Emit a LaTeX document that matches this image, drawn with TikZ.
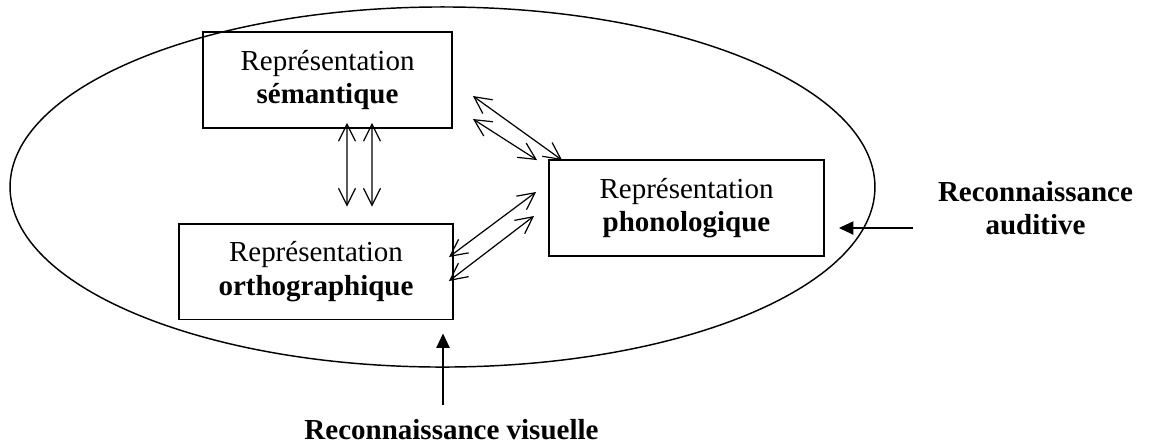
\documentclass[tikz,border=0pt]{standalone}
\usepackage{fontspec}
\setmainfont{Liberation Serif}
\usepackage{tikz}
\usetikzlibrary{arrows.meta, shapes.geometric}

\begin{document}
\begin{tikzpicture}[
  x=0.4138pt, y=-0.4138pt,
  every node/.style={font=\fontsize{12}{13.8}\selectfont},
  box/.style={rectangle, draw, line width=0.8pt, minimum height=39.7pt,
              inner sep=0pt, align=center},
  dbl/.style={{Straight Barb[length=7pt,width=7pt]}-{Straight Barb[length=7pt,width=7pt]},
              line width=0.5pt},
  inarrow/.style={-{Triangle[length=6pt,width=5.5pt]}, line width=0.6pt},
  label/.style={align=center, inner sep=0pt,
                font=\fontsize{12}{13.8}\selectfont\bfseries}
]
\useasboundingbox (0,0) rectangle (1152,446);

% the lexicon
\node[ellipse, draw, line width=0.6pt, minimum width=357.9pt, minimum height=149pt,
      inner sep=0pt] (lexique) at (442.5,187) {};

\node[box, minimum width=103pt] (sem)  at (327.5,80)  {Représentation\\\textbf{sémantique}};
\node[box, minimum width=113.4pt] (orth) at (316,271.5) {Représentation\\\textbf{orthographique}};
\node[box, minimum width=113.8pt] (phon) at (686.5,208) {Représentation\\\textbf{phonologique}};

% links between representations
\draw[dbl] ([shift={(19.5,-6)}]sem.south) -- ([shift={(31,-16)}]orth.north);
\draw[dbl] ([shift={(44.5,-6)}]sem.south) -- ([shift={(56,-16)}]orth.north);
\draw[dbl] ([shift={(20,16)}]sem.east) -- ([shift={(14,1)}]phon.north west);
\draw[dbl] ([shift={(20,39)}]sem.east) -- ([shift={(-11,1)}]phon.north west);
\draw[dbl] ([shift={(-5,-14.5)}]orth.east) -- ([shift={(-12,-16)}]phon.west);
\draw[dbl] ([shift={(-5,9.5)}]orth.east) -- ([shift={(-14,8)}]phon.west);

% inputs
\node[label] (audi) at (1035.5,208) {Reconnaissance\\auditive};
\node[label, anchor=base] (visu) at (451.5,439) {Reconnaissance visuelle};
\coordinate (auditail) at (913,228);
\coordinate (visutail) at (443,405);
\draw[inarrow] (auditail) -- ([shift={(14,20)}]phon.east);
\draw[inarrow] (visutail) -- ([shift={(127,13)}]orth.south);
\end{tikzpicture}
\end{document}
